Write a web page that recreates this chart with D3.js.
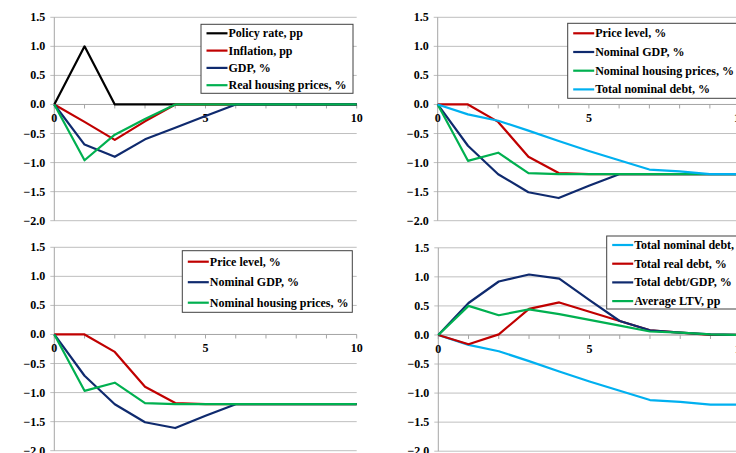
<!DOCTYPE html>
<html>
<head>
<meta charset="utf-8">
<script src="https://cdn.jsdelivr.net/npm/d3@7"></script>
<style>
    html, body { margin: 0; padding: 0; background: #fff; }
    svg { display: block; }
</style>
</head>
<body>
<div id="chart"></div>
<script>
// quarters after the shock
const periods = [0, 1, 2, 3, 4, 5, 6, 7, 8, 9, 10];
const yTicks = [1.5, 1.0, 0.5, 0.0, -0.5, -1.0, -1.5, -2.0];
const xLabels = [0, 5, 10];

// panel 1
const policyRate = [0, 1.0, 0, 0, 0, 0, 0, 0, 0, 0, 0];
const inflation = [0, -0.3, -0.61, -0.29, 0, 0, 0, 0, 0, 0, 0];
const gdp = [0, -0.69, -0.9, -0.6, -0.4, -0.2, 0, 0, 0, 0, 0];
const realHousing = [0, -0.96, -0.52, -0.25, 0, 0, 0, 0, 0, 0, 0];

// panels 2 and 3
const priceLevel = [0, 0, -0.3, -0.9, -1.18, -1.2, -1.2, -1.2, -1.2, -1.2, -1.2];
const nominalGdp = [0, -0.71, -1.2, -1.51, -1.61, -1.4, -1.2, -1.2, -1.2, -1.2, -1.2];
const nominalHousing = [0, -0.97, -0.83, -1.18, -1.2, -1.2, -1.2, -1.2, -1.2, -1.2, -1.2];
const nominalDebt = [0, -0.17, -0.28, -0.45, -0.63, -0.8, -0.96, -1.12, -1.15, -1.2, -1.2];

// panel 4
const realDebt = [0, -0.16, 0.01, 0.45, 0.56, 0.4, 0.24, 0.08, 0.04, 0.0, 0.0];
const debtToGdp = [0, 0.55, 0.92, 1.04, 0.97, 0.6, 0.24, 0.08, 0.04, 0.01, 0.0];
const averageLtv = [0, 0.5, 0.34, 0.44, 0.36, 0.26, 0.16, 0.06, 0.04, 0.01, 0.0];

const colors = {
    black: '#000000',
    red: '#c00000',
    navy: '#0f2a6e',
    green: '#00b050',
    blue: '#00b0f0'
};

const FONT = '"Liberation Serif", "DejaVu Serif", "Times New Roman", serif';

const panels = [
    {
        left: 54.3, top: 17.3, bottom: 220.7,
        series: [
            { label: 'Policy rate, pp', values: policyRate, color: colors.black },
            { label: 'Inflation, pp', values: inflation, color: colors.red },
            { label: 'GDP, %', values: gdp, color: colors.navy },
            { label: 'Real housing prices, %', values: realHousing, color: colors.green }
        ],
        legend: { x: 201, y: 24.3, w: 152, h: 69, rowY: 9, step: 17.3 }
    },
    {
        left: 437.7, top: 17.3, bottom: 220.7,
        series: [
            { label: 'Price level, %', values: priceLevel, color: colors.red },
            { label: 'Nominal GDP, %', values: nominalGdp, color: colors.navy },
            { label: 'Nominal housing prices, %', values: nominalHousing, color: colors.green },
            { label: 'Total nominal debt, %', values: nominalDebt, color: colors.blue }
        ],
        legend: { x: 567.7, y: 23.3, w: 172, h: 75, rowY: 10, step: 18.7 }
    },
    {
        left: 54.3, top: 247.3, bottom: 450.7,
        series: [
            { label: 'Price level, %', values: priceLevel, color: colors.red },
            { label: 'Nominal GDP, %', values: nominalGdp, color: colors.navy },
            { label: 'Nominal housing prices, %', values: nominalHousing, color: colors.green }
        ],
        legend: { x: 182.3, y: 250.7, w: 170, h: 61.6, rowY: 11, step: 20.5 }
    },
    {
        left: 438.3, top: 247.8, bottom: 451.2,
        series: [
            { label: 'Total nominal debt, %', values: nominalDebt, color: colors.blue },
            { label: 'Total real debt, %', values: realDebt, color: colors.red },
            { label: 'Total debt/GDP, %', values: debtToGdp, color: colors.navy },
            { label: 'Average LTV, pp', values: averageLtv, color: colors.green }
        ],
        legend: { x: 606.7, y: 236, w: 140, h: 73, rowY: 9, step: 18.7 }
    }
];

const width = 736, height = 453;
const plotWidth = 302.4;

const svg = d3.select('#chart').append('svg')
    .attr('width', width)
    .attr('height', height)
    .attr('font-family', FONT)
    .attr('font-weight', 'bold')
    .attr('font-size', 12);

panels.forEach(p => {
    const g = svg.append('g');
    const x = d3.scaleLinear().domain([0, 10]).range([p.left, p.left + plotWidth]);
    const y = d3.scaleLinear().domain([-2, 1.5]).range([p.bottom, p.top]);

    // horizontal gridlines
    g.append('g').selectAll('line').data(yTicks).join('line')
        .attr('x1', p.left - 4).attr('x2', p.left + plotWidth)
        .attr('y1', d => y(d)).attr('y2', d => y(d))
        .attr('stroke', '#bfbfbf').attr('stroke-width', 1);

    // y axis line
    g.append('line')
        .attr('x1', p.left).attr('x2', p.left)
        .attr('y1', y(1.5)).attr('y2', y(-2))
        .attr('stroke', '#a6a6a6').attr('stroke-width', 1);

    // x axis through zero with ticks every period
    g.append('line')
        .attr('x1', p.left).attr('x2', p.left + plotWidth)
        .attr('y1', y(0)).attr('y2', y(0))
        .attr('stroke', '#a6a6a6').attr('stroke-width', 1);
    g.append('g').selectAll('line').data(periods).join('line')
        .attr('x1', d => x(d)).attr('x2', d => x(d))
        .attr('y1', y(0)).attr('y2', y(0) + 4)
        .attr('stroke', '#a6a6a6').attr('stroke-width', 1);

    // tick labels
    g.append('g').selectAll('text').data(yTicks).join('text')
        .attr('x', p.left - 9)
        .attr('y', d => y(d) + 4)
        .attr('text-anchor', 'end')
        .text(d => d3.format('.1f')(d));

    g.append('g').selectAll('text').data(xLabels).join('text')
        .attr('x', d => x(d))
        .attr('y', y(0) + 18)
        .attr('text-anchor', 'middle')
        .text(d => d);

    // series lines
    const line = d3.line()
        .x((d, i) => x(periods[i]))
        .y(d => y(d));

    g.append('g').selectAll('path').data(p.series).join('path')
        .attr('d', d => line(d.values))
        .attr('fill', 'none')
        .attr('stroke', d => d.color)
        .attr('stroke-width', 2.2)
        .attr('stroke-linejoin', 'round');

    // legend
    const L = p.legend;
    const lg = g.append('g');
    lg.append('rect')
        .attr('x', L.x).attr('y', L.y)
        .attr('width', L.w).attr('height', L.h)
        .attr('fill', '#fff')
        .attr('stroke', '#404040').attr('stroke-width', 1);

    const rows = lg.selectAll('g').data(p.series).join('g')
        .attr('transform', (d, i) => `translate(${L.x}, ${L.y + L.rowY + i * L.step})`);
    rows.append('line')
        .attr('x1', 5.5).attr('x2', 26.5)
        .attr('stroke', d => d.color).attr('stroke-width', 2.2);
    rows.append('text')
        .attr('x', 27.5).attr('y', 4)
        .text(d => d.label);
});
</script>
</body>
</html>
